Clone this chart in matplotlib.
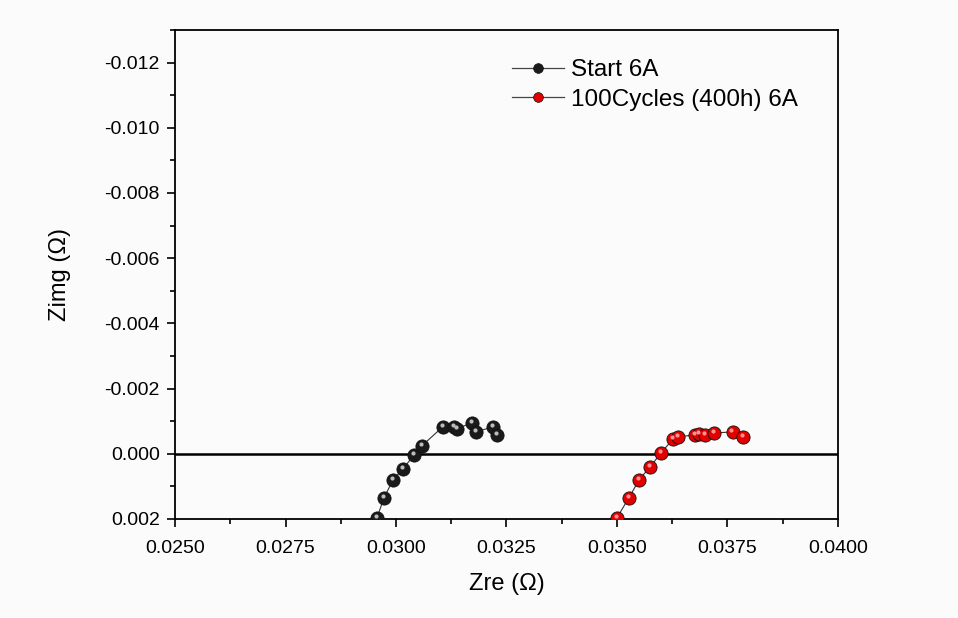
import matplotlib.pyplot as plt
from matplotlib.ticker import MultipleLocator, FormatStrFormatter

plt.rcParams['font.family'] = ['Liberation Sans', 'DejaVu Sans']

# Nyquist data (Zre, Zimg in Ohm)
start_zre = [0.02945, 0.02957, 0.02973, 0.02993, 0.03016, 0.03041, 0.03059,
             0.03106, 0.03131, 0.03138, 0.03172, 0.03181, 0.03220, 0.03229]
start_zimg = [0.00260, 0.00196, 0.00135, 0.00080, 0.00046, 0.00003, -0.00025,
              -0.00083, -0.00083, -0.00077, -0.00095, -0.00067, -0.00083, -0.00058]

cyc_zre = [0.03490, 0.03500, 0.03527, 0.03550, 0.03575, 0.03600, 0.03627,
           0.03638, 0.03677, 0.03686, 0.03699, 0.03720, 0.03762, 0.03785]
cyc_zimg = [0.00260, 0.00196, 0.00135, 0.00080, 0.00040, -0.00003, -0.00046,
            -0.00052, -0.00058, -0.00061, -0.00058, -0.00064, -0.00067, -0.00052]

labels = ['Start 6A', '100Cycles (400h) 6A']

fig = plt.figure(figsize=(9.58, 6.18), dpi=100)
fig.patch.set_facecolor('#fbfbfb')
ax = fig.add_axes([0.1827, 0.1602, 0.692, 0.7913])
ax.set_facecolor('#fbfbfb')

ax.axhline(0, color='black', lw=1.8, zorder=1)

def sphere_series(x, y, col, hi, lab):
    ax.plot(x, y, '-', color='#333333', lw=0.8, zorder=2)
    ax.plot(x, y, 'o', ms=9.5, mfc=col, mec='#111111', mew=0.6, zorder=3)
    # small highlight to mimic the shaded ball marker
    ax.plot([v - 0.00003 for v in x], [v - 0.00006 for v in y], 'o', ms=3,
            mfc=hi, mec='none', zorder=4)
    # legend handle
    ax.plot([], [], '-o', color='#444444', lw=0.9, ms=7, mfc=col,
            mec='#111111', mew=0.5, label=lab)

sphere_series(start_zre, start_zimg, '#1a1a1a', '#bbbbbb', labels[0])
sphere_series(cyc_zre, cyc_zimg, '#e00000', '#ff9090', labels[1])

ax.set_xlim(0.0250, 0.0400)
ax.set_ylim(0.002, -0.013)
ax.xaxis.set_major_locator(MultipleLocator(0.0025))
ax.xaxis.set_minor_locator(MultipleLocator(0.00125))
ax.yaxis.set_major_locator(MultipleLocator(0.002))
ax.yaxis.set_minor_locator(MultipleLocator(0.001))
ax.xaxis.set_major_formatter(FormatStrFormatter('%.4f'))
ax.yaxis.set_major_formatter(FormatStrFormatter('%.3f'))
ax.tick_params(which='major', direction='out', length=6, width=1.2, labelsize=14)
ax.tick_params(axis='x', which='major', pad=9)
ax.tick_params(axis='y', which='major', pad=5)
ax.tick_params(which='minor', direction='out', length=3.5, width=1.2)
ax.tick_params(top=False, right=False)
for s in ax.spines.values():
    s.set_linewidth(1.3)

ax.set_xlabel('Zre (\u03a9)', fontsize=17, labelpad=12)
ax.set_ylabel('Zimg (\u03a9)', fontsize=17, labelpad=24)

ax.legend(loc='upper left', bbox_to_anchor=(0.476, 0.985), frameon=False,
          fontsize=17.5, handlelength=2.1, handletextpad=0.3, labelspacing=0.3)

fig.savefig('out.png', dpi=100, facecolor=fig.get_facecolor())
